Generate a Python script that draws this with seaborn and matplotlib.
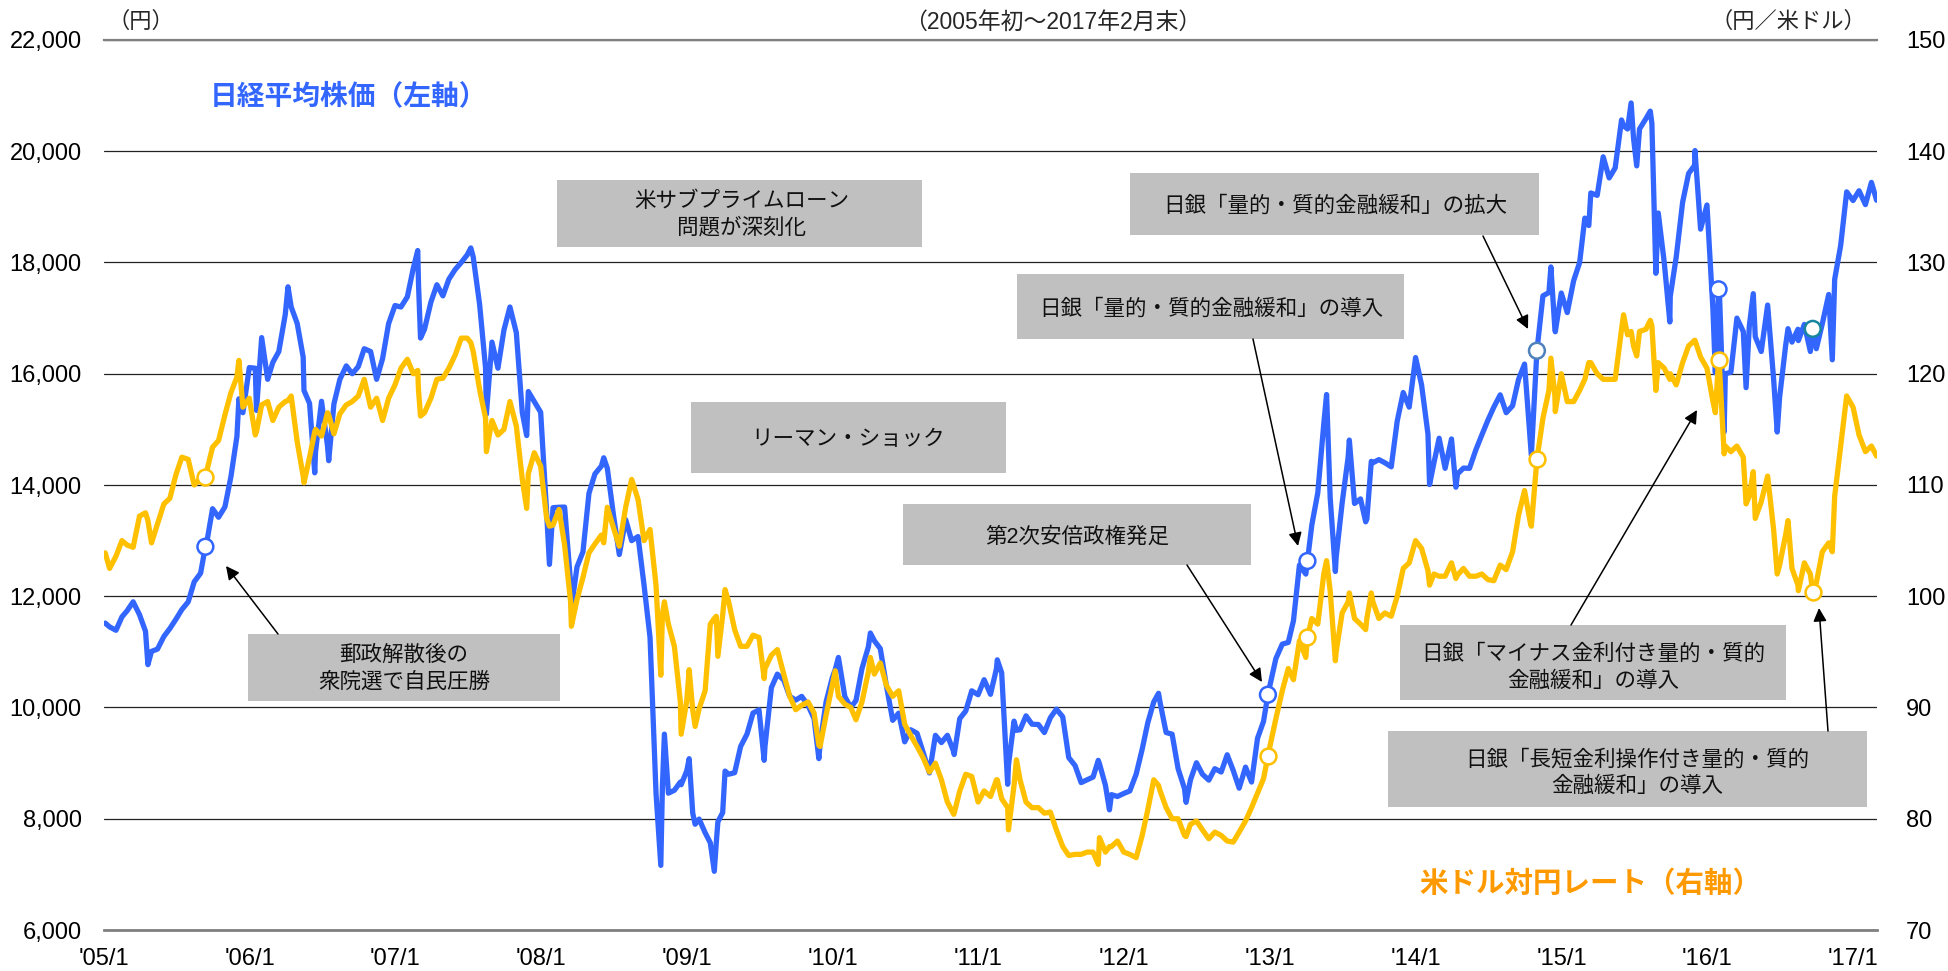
import pandas as pd
import matplotlib.pyplot as plt
import seaborn as sns
from matplotlib.patches import Rectangle, FancyArrowPatch
from matplotlib.ticker import FuncFormatter

W, H = 1949, 971
BLUE = '#3366FF'
ORANGE = '#FFC000'

# semi-monthly readings (15th, month end) Jan 2005 - Feb 2017
nikkei_half = [
    11450, 11388, 11630, 11740, 11900, 11668, 11370, 11009, 11050, 11277, 11420, 11584, 11760, 11900, 12260, 12414, 12950, 13574, 13420, 13607, 14150, 14872, 15300, 16111,  # 2005
    16100, 16650, 15900, 16205, 16400, 17060, 17200, 16906, 16300, 15467, 14600, 15505, 14700, 15457, 15900, 16141, 16000, 16128, 16450, 16399, 15900, 16274, 16900, 17226,  # 2006
    17200, 17383, 17900, 17604, 16800, 17288, 17600, 17400, 17700, 17876, 18000, 18138, 18100, 17249, 16100, 16569, 16100, 16786, 17200, 16738, 15300, 15680, 15500, 15308,  # 2007
    13500, 13592, 13600, 13603, 12240, 12526, 12800, 13850, 14200, 14339, 14300, 13481, 12750, 13377, 13000, 13073, 12200, 11260, 8460, 8577, 8460, 8512, 8660, 8860,  # 2008
    8100, 7994, 7750, 7568, 7570, 8110, 8800, 8828, 9300, 9523, 9900, 9958, 9300, 10357, 10600, 10493, 10200, 10133, 10200, 10035, 9800, 9346, 10100, 10546,  # 2009
    10900, 10198, 10000, 10126, 10700, 11090, 11200, 11057, 10400, 9769, 9900, 9383, 9600, 9537, 9200, 8824, 9500, 9369, 9500, 9202, 9800, 9937, 10300, 10229,  # 2010
    10500, 10237, 10700, 10624, 8620, 9755, 9600, 9850, 9700, 9694, 9550, 9816, 9970, 9833, 9100, 8955, 8650, 8700, 8750, 8988, 8600, 8434, 8400, 8455,  # 2011
    8500, 8803, 9250, 9723, 10100, 10084, 9550, 9521, 8900, 8543, 8700, 9007, 8800, 8695, 8900, 8840, 9150, 8870, 8550, 8928, 8660, 9446, 9750, 10395,  # 2012
    10880, 11139, 11170, 11559, 12560, 12398, 13280, 13861, 15100, 13775, 12700, 13677, 14500, 13668, 13750, 13389, 14400, 14456, 14400, 14327, 15150, 15662, 15400, 16291,  # 2013
    15800, 14915, 14400, 14841, 14300, 14828, 14200, 14304, 14300, 14632, 14900, 15162, 15400, 15621, 15300, 15425, 15900, 16174, 14740, 16414, 17400, 17460, 16800, 17451,  # 2014
    17100, 17674, 18000, 18798, 19250, 19207, 19900, 19520, 19700, 20563, 20400, 20236, 20400, 20585, 20500, 18890, 18000, 17388, 18100, 19083, 19600, 19747, 18600, 19034,  # 2015
    17147, 17518, 16000, 16027, 17000, 16759, 16850, 16666, 16400, 17235, 15900, 15576, 16500, 16569, 16800, 16887, 16400, 16450, 16900, 17425, 17700, 18308, 19270, 19114,  # 2016
    19290, 19041, 19440, 19119,  # 2017
]
usdjpy_half = [
    102.5, 103.6, 105.0, 104.6, 104.4, 107.2, 107.5, 104.8, 106.5, 108.3, 108.8, 110.9, 112.5, 112.3, 110.0, 110.6, 111.2, 113.4, 114.0, 116.3, 118.3, 119.7, 117.0, 117.8,  # 2005
    114.5, 117.2, 117.5, 115.8, 117.0, 117.5, 118.0, 113.9, 110.8, 112.5, 115.0, 114.4, 116.5, 114.6, 116.4, 117.2, 117.5, 118.0, 119.5, 117.0, 117.8, 115.8, 117.8, 119.0,  # 2006
    120.5, 121.3, 120.0, 118.5, 116.5, 117.8, 119.5, 119.6, 120.5, 121.7, 123.2, 123.2, 122.0, 118.6, 116.0, 115.8, 114.5, 115.0, 117.5, 115.3, 110.5, 111.0, 112.9, 111.7,  # 2007
    107.0, 106.4, 107.8, 104.6, 99.5, 99.7, 101.7, 103.9, 104.7, 105.5, 108.0, 106.2, 104.5, 108.0, 110.5, 108.7, 105.0, 106.0, 101.0, 98.4, 97.5, 95.5, 90.5, 90.6,  # 2008
    89.8, 89.9, 91.5, 97.5, 98.2, 98.3, 99.5, 97.0, 95.5, 95.5, 96.5, 96.3, 93.5, 94.7, 95.2, 93.0, 91.0, 89.8, 90.2, 90.5, 89.5, 86.5, 89.3, 92.1,  # 2009
    91.0, 90.3, 90.0, 88.9, 90.5, 93.2, 93.0, 94.0, 92.0, 91.0, 91.5, 88.5, 87.5, 86.5, 85.5, 84.2, 85.0, 83.5, 81.5, 80.4, 82.5, 84.0, 83.8, 81.5,  # 2010
    82.5, 82.0, 83.5, 81.8, 81.0, 83.0, 83.5, 81.5, 81.0, 81.0, 80.5, 80.6, 79.0, 77.5, 76.7, 76.8, 76.8, 77.0, 77.0, 78.3, 77.0, 77.5, 78.0, 77.0,  # 2011
    76.8, 76.5, 78.5, 80.8, 83.5, 82.5, 81.0, 80.0, 80.0, 78.5, 79.5, 79.8, 79.0, 78.2, 78.8, 78.5, 78.0, 77.9, 78.8, 79.8, 81.0, 82.3, 83.6, 86.5,  # 2012
    89.0, 91.5, 93.5, 92.5, 96.0, 94.5, 98.0, 97.5, 102.0, 100.5, 95.0, 98.5, 99.5, 98.0, 97.5, 98.0, 99.5, 98.0, 98.5, 98.2, 100.0, 102.5, 103.0, 105.0,  # 2013
    104.3, 102.3, 102.0, 101.8, 101.8, 103.0, 101.9, 102.5, 101.8, 101.8, 102.0, 101.5, 101.4, 102.8, 102.4, 104.0, 107.3, 109.5, 106.5, 112.3, 116.0, 118.5, 118.0, 120.0,  # 2014
    117.5, 117.5, 118.5, 119.5, 121.0, 120.0, 119.5, 119.5, 119.5, 124.0, 123.5, 122.5, 123.8, 124.0, 124.3, 121.0, 120.5, 120.0, 119.0, 121.0, 122.5, 123.0, 121.5, 120.5,  # 2015
    117.5, 120.8, 113.5, 113.0, 113.5, 112.5, 109.0, 107.0, 108.5, 110.8, 106.0, 102.8, 105.5, 102.5, 101.0, 103.0, 102.0, 101.2, 104.0, 104.8, 109.0, 113.5, 118.0, 117.0,  # 2016
    114.5, 113.0, 113.5, 112.6,  # 2017
]

# extra readings at visible highs / lows of the daily lines
extra_dates = ['2005-01-04', '2005-04-21', '2005-12-05', '2006-01-18', '2006-04-07', '2006-05-17',
               '2006-06-13', '2006-07-18', '2007-02-26', '2007-03-05', '2007-07-09', '2007-08-17',
               '2007-11-26', '2008-01-22', '2008-03-17', '2008-06-06', '2008-10-27', '2008-11-05',
               '2008-12-17', '2009-01-06', '2009-01-21', '2009-03-10', '2009-03-19', '2009-04-06',
               '2009-07-13', '2009-11-27', '2010-01-07', '2010-04-05', '2010-11-01', '2011-02-17',
               '2011-03-17', '2011-04-06', '2011-10-28', '2011-11-25', '2012-03-27', '2012-06-04',
               '2013-05-22', '2013-06-13', '2013-07-18', '2013-08-28', '2013-09-11', '2014-02-04',
               '2014-04-11', '2014-10-17', '2014-12-05', '2014-12-16', '2015-03-10', '2015-06-05',
               '2015-06-24', '2015-07-08', '2015-08-11', '2015-08-25', '2015-09-29', '2015-12-01',
               '2016-01-21', '2016-02-12', '2016-04-07', '2016-04-25', '2016-06-24', '2016-07-21',
               '2016-08-16', '2016-11-09']
extra_nikkei = [11517, 10770, 15550, 15341, 17563, 15700,
                14219, 14437, 18215, 16642, 18262, 15273,
                14888, 12573, 11787, 14489, 7162, 9521,
                8612, 9080, 7901, 7055, 7945, 8857,
                9050, 9081, 10681, 11339, 9154, 10857,
                8963, 9590, 9050, 8160, 10255, 8295,
                15627, 12445, 14808, 13338, 14425, 14008,
                13960, 14533, 17921, 16755, 18665, 20461,
                20868, 19737, 20721, 17806, 16931, 20012,
                16017, 14953, 15750, 17440, 14952, 16810,
                16596, 16251]
extra_usdjpy = [103.9, 106.8, 121.2, 114.8, 117.6, 110.2,
                114.8, 116.3, 120.3, 116.2, 122.8, 113.0,
                107.9, 106.3, 97.3, 104.8, 92.9, 99.5,
                87.6, 93.4, 88.3, 98.0, 94.6, 100.6,
                92.6, 86.6, 93.3, 94.5, 80.5, 83.5,
                79.0, 85.3, 75.9, 77.5, 83.0, 78.4,
                103.2, 94.2, 100.3, 97.0, 100.3, 101.0,
                101.6, 106.3, 121.4, 116.6, 121.0, 125.3,
                123.8, 121.6, 124.8, 118.5, 119.5, 123.0,
                116.5, 112.8, 108.3, 111.2, 102.0, 106.8,
                100.5, 104.0]

# events marked with circles
event_dates = ['2005-09-12', '2012-12-26', '2013-04-04', '2014-10-31', '2016-01-29', '2016-09-21']
event_nikkei = [12890, 10230, 12634, 16414, 17518, 16807]
event_usdjpy = [110.7, 85.6, 96.3, 112.3, 121.2, 100.4]
event_edge = [BLUE, BLUE, BLUE, '#4F81BD', BLUE, '#17869E']

half_dates = []
for y in range(2005, 2018):
    for m in range(1, 13):
        if (y, m) > (2017, 2):
            break
        half_dates.append(pd.Timestamp(y, m, 15))
        half_dates.append(pd.Timestamp(y, m, 1) + pd.offsets.MonthEnd(0))

df = pd.DataFrame({
    'date': half_dates + list(pd.to_datetime(extra_dates)) + list(pd.to_datetime(event_dates)),
    'nikkei': nikkei_half + extra_nikkei + event_nikkei,
    'usdjpy': usdjpy_half + extra_usdjpy + event_usdjpy,
})
df = df.drop_duplicates('date').sort_values('date').reset_index(drop=True)

sns.set_theme(style='white')
plt.rcParams['font.family'] = ['Liberation Sans', 'Noto Sans CJK JP']

fig = plt.figure(figsize=(W / 100, H / 100), dpi=100)
ax = fig.add_axes([104 / W, 1 - 930 / H, (1877 - 104) / W, (930 - 40) / H])
ax2 = ax.twinx()

sns.lineplot(data=df, x='date', y='nikkei', ax=ax, color=BLUE, lw=3.8, estimator=None)
sns.lineplot(data=df, x='date', y='usdjpy', ax=ax2, color=ORANGE, lw=3.8, estimator=None)

ev = pd.to_datetime(event_dates)
ax.scatter(ev, event_nikkei, s=130, facecolors='white', edgecolors=event_edge, linewidths=1.8, zorder=5)
ax2.scatter(ev, event_usdjpy, s=130, facecolors='white', edgecolors=ORANGE, linewidths=1.8, zorder=5)

ax.set_xlim(pd.Timestamp('2005-01-01'), pd.Timestamp('2017-03-01'))
ax.set_ylim(6000, 22000)
ax2.set_ylim(70, 150)
ax.set_yticks(range(6000, 22001, 2000))
ax.yaxis.set_major_formatter(FuncFormatter(lambda v, p: f'{v:,.0f}'))
ax2.set_yticks(range(70, 151, 10))
years = list(range(2005, 2018))
ax.set_xticks([pd.Timestamp(y, 1, 1) for y in years])
ax.set_xticklabels([f"'{y % 100:02d}/1" for y in years])
for a in (ax, ax2):
    a.set_xlabel('')
    a.set_ylabel('')

ax.grid(axis='y', color='#222222', lw=0.9)
ax.grid(axis='x', visible=False)
ax2.grid(False)
ax.spines['left'].set_visible(False)
ax.spines['right'].set_visible(False)
ax.spines['top'].set_color('#808080')
ax.spines['top'].set_linewidth(1.6)
ax.spines['bottom'].set_color('#808080')
ax.spines['bottom'].set_linewidth(2)
for s in ax2.spines.values():
    s.set_visible(False)
ax.tick_params(axis='x', direction='in', length=6, width=1, color='#808080', pad=13, labelsize=17, labelcolor='black')
ax.tick_params(axis='y', length=0, pad=16, labelsize=17, labelcolor='black')
ax2.tick_params(axis='y', length=0, pad=21, labelsize=17, labelcolor='black')


def fx(px):
    return px / W


def fy(py):
    return 1 - py / H


# header texts
fig.text(fx(141), fy(22), '（円）', ha='center', va='center', fontsize=16)
fig.text(fx(1053), fy(22), '（2005年初～2017年2月末）', ha='center', va='center', fontsize=16.5)
fig.text(fx(1788), fy(22), '（円／米ドル）', ha='center', va='center', fontsize=16)

# series labels
fig.text(fx(349), fy(97), '日経平均株価（左軸）', ha='center', va='center', fontsize=20,
         fontweight='bold', color=BLUE)
fig.text(fx(1590), fy(884), '米ドル対円レート（右軸）', ha='center', va='center', fontsize=20.5,
         fontweight='bold', color='#FF9900')

# callout boxes: (left, top, right, bottom) in px, text, text centre
boxes = [
    ((248, 634, 560, 701), '郵政解散後の\n衆院選で自民圧勝', (404, 669)),
    ((557, 180, 922, 247), '米サブプライムローン\n問題が深刻化', (742, 215)),
    ((691, 402, 1006, 473), 'リーマン・ショック', (848, 439)),
    ((903, 504, 1251, 565), '第2次安倍政権発足', (1077, 537)),
    ((1017, 274, 1404, 339), '日銀「量的・質的金融緩和」の導入', (1211, 309)),
    ((1130, 173, 1539, 235), '日銀「量的・質的金融緩和」の拡大', (1335, 206)),
    ((1400, 625, 1786, 700), '日銀「マイナス金利付き量的・質的\n金融緩和」の導入', (1593, 668)),
    ((1388, 731, 1867, 807), '日銀「長短金利操作付き量的・質的\n金融緩和」の導入', (1637, 773)),
]
for (x0, y0, x1, y1), label, (tx, ty) in boxes:
    fig.add_artist(Rectangle((fx(x0), fy(y1)), (x1 - x0) / W, (y1 - y0) / H,
                             transform=fig.transFigure, facecolor='#C0C0C0', edgecolor='none', zorder=3))
    fig.text(fx(tx), fy(ty), label, ha='center', va='center', fontsize=15.5,
             linespacing=1.35, color='#111111', zorder=4)

arrows = [
    ((278, 634), (226, 566)),
    ((1187, 565), (1262, 682)),
    ((1253, 339), (1298, 546)),
    ((1483, 236), (1528, 329)),
    ((1571, 625), (1697, 410)),
    ((1828, 731), (1819, 608)),
]
for (ax0, ay0), (ax1, ay1) in arrows:
    fig.add_artist(FancyArrowPatch((fx(ax0), fy(ay0)), (fx(ax1), fy(ay1)), transform=fig.transFigure,
                                   arrowstyle='-|>', mutation_scale=20, color='black', lw=1.1,
                                   shrinkA=0, shrinkB=0, zorder=4))

fig.savefig('out.png', dpi=100)
